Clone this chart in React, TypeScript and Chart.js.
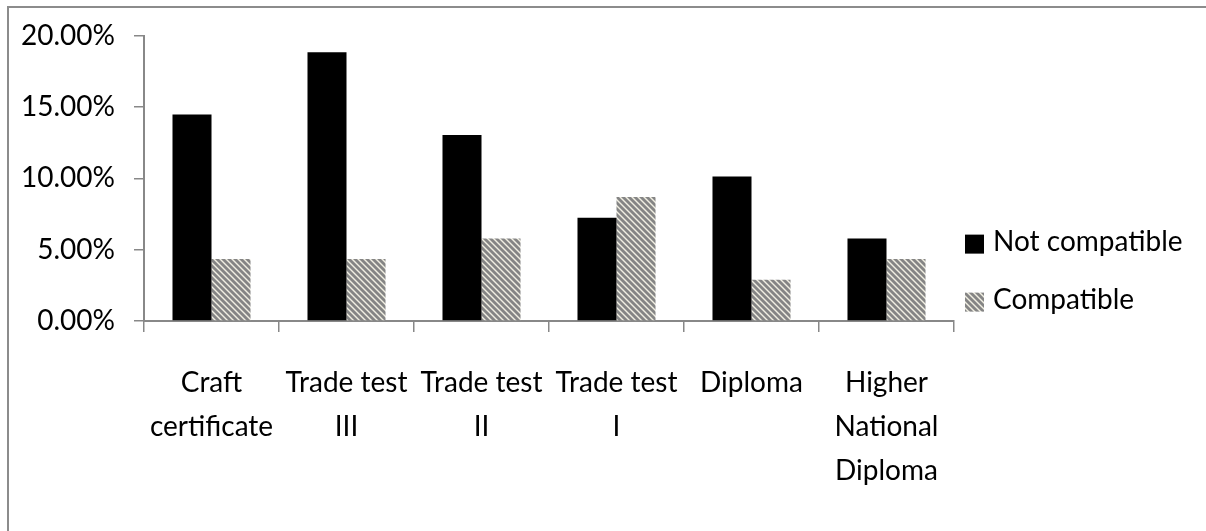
import React, { useEffect, useRef } from "react";
import { Chart, registerables } from "chart.js";

Chart.register(...registerables);

const categories: string[][] = [
  ["Craft", "certificate"],
  ["Trade test", "III"],
  ["Trade test", "II"],
  ["Trade test", "I"],
  ["Diploma"],
  ["Higher", "National", "Diploma"],
];
const notCompatible = [14.49, 18.84, 13.04, 7.25, 10.14, 5.8];
const compatible = [4.35, 4.35, 5.8, 8.7, 2.9, 4.35];
const yTicks = [0, 5, 10, 15, 20];
const seriesNames = ["Not compatible", "Compatible"];

const FONT = 'Lato, "DejaVu Sans Condensed", sans-serif';
const FONT_SIZE = 28;
const AXIS = "#888888";

function makeHatch(): CanvasPattern | string {
  const s = 6;
  const c = document.createElement("canvas");
  c.width = s;
  c.height = s;
  const g = c.getContext("2d");
  if (!g) return "#999";
  g.fillStyle = "#f1efe2";
  g.fillRect(0, 0, s, s);
  g.strokeStyle = "#858585";
  g.lineWidth = 2.8;
  for (let k = -1; k <= 1; k++) {
    g.beginPath();
    g.moveTo(-s, k * s - s);
    g.lineTo(2 * s, k * s + 2 * s);
    g.stroke();
  }
  return g.createPattern(c, "repeat") || "#999";
}

// Legend drawn beside the plot area, using the datasets' labels and fills.
const sideLegend = {
  id: "sideLegend",
  afterDraw(chart: any) {
    const { ctx, chartArea } = chart;
    const box = 19;
    const gap = 58;
    const x = chartArea.right + 11;
    const cy = chartArea.bottom - 48;
    ctx.save();
    ctx.font = `${FONT_SIZE}px ${FONT}`;
    ctx.textBaseline = "middle";
    ctx.textAlign = "left";
    chart.data.datasets.forEach((ds: any, i: number) => {
      const yc = cy + (i - 0.5) * gap;
      ctx.fillStyle = ds.backgroundColor;
      ctx.fillRect(x, yc - box / 2, box, box);
      ctx.fillStyle = "#000";
      ctx.fillText(ds.label, x + box + 9, yc - 2);
    });
    ctx.restore();
  },
};

export default function App() {
  const ref = useRef<HTMLCanvasElement | null>(null);

  useEffect(() => {
    if (!ref.current) return;
    const hatch = makeHatch();
    const chart = new Chart(ref.current, {
      type: "bar",
      data: {
        labels: categories,
        datasets: [
          {
            label: seriesNames[0],
            data: notCompatible,
            backgroundColor: "#000000",
            borderWidth: 0,
            categoryPercentage: 0.578,
            barPercentage: 1,
          },
          {
            label: seriesNames[1],
            data: compatible,
            backgroundColor: hatch as any,
            borderWidth: 0,
            categoryPercentage: 0.578,
            barPercentage: 1,
          },
        ],
      },
      plugins: [sideLegend],
      options: {
        animation: false,
        responsive: true,
        maintainAspectRatio: false,
        layout: { padding: { top: 13, left: 2, right: 252, bottom: 9 } },
        plugins: {
          tooltip: { enabled: false },
          legend: { display: false },
        },
        scales: {
          x: {
            grid: {
              display: true,
              drawOnChartArea: false,
              drawTicks: true,
              tickLength: 11,
              color: AXIS,
              lineWidth: 1.5,
              offset: true,
            },
            border: { display: true, color: AXIS, width: 2 },
            ticks: {
              color: "#000",
              padding: 29,
              maxRotation: 0,
              autoSkip: false,
              font: { family: FONT, size: FONT_SIZE, lineHeight: 1.57 },
            },
          },
          y: {
            min: 0,
            max: 20,
            afterBuildTicks: (axis: any) => {
              axis.ticks = yTicks.map((v) => ({ value: v }));
            },
            grid: {
              display: true,
              drawOnChartArea: false,
              drawTicks: true,
              tickLength: 10,
              color: AXIS,
              lineWidth: 1.5,
            },
            border: { display: true, color: AXIS, width: 2 },
            ticks: {
              color: "#000",
              padding: 19,
              font: { family: FONT, size: FONT_SIZE },
              callback: (v: any) => Number(v).toFixed(2) + "%",
            },
          },
        },
      },
    });
    return () => chart.destroy();
  }, []);

  return (
    <div style={{ position: "fixed", left: 0, top: 0, width: 1206, height: 531, overflow: "hidden", background: "#fff" }}>
      <div style={{ position: "absolute", left: 0, top: 0, width: 1206, height: 531 }}>
        <canvas ref={ref} />
      </div>
      <div
        style={{
          position: "absolute",
          left: 7,
          top: 6,
          width: 1400,
          height: 700,
          borderTop: "2px solid #8c8c8c",
          borderLeft: "2px solid #8c8c8c",
          pointerEvents: "none",
          zIndex: 2,
        }}
      />
    </div>
  );
}
